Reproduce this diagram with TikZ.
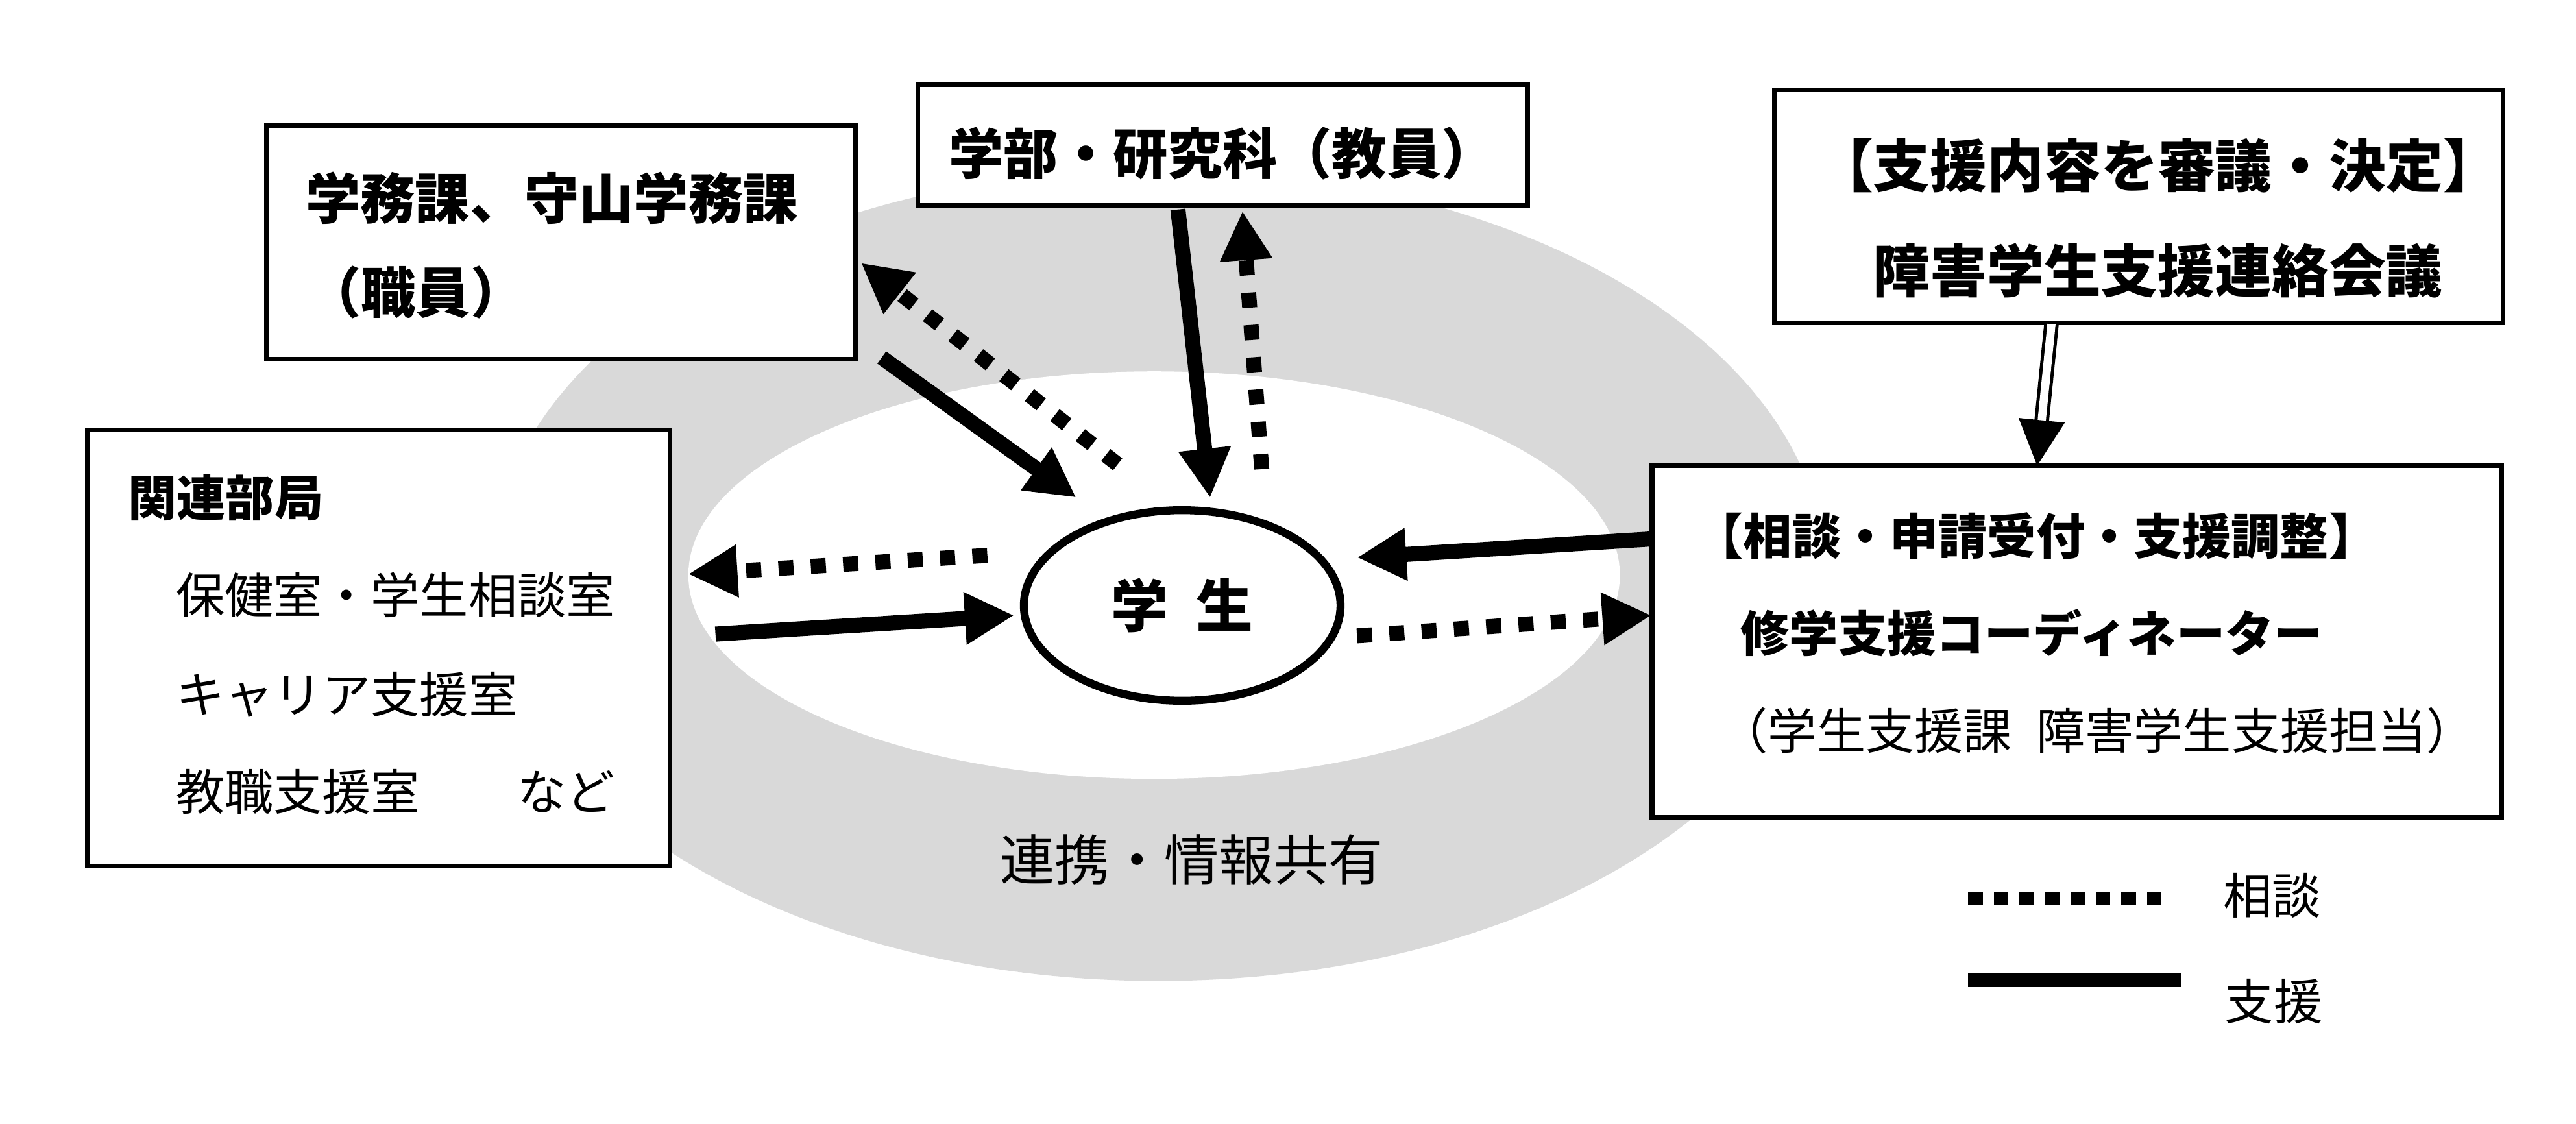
\documentclass[tikz,border=0pt]{standalone}
\usepackage{fontspec}
\setmainfont{Noto Sans CJK JP}
\usetikzlibrary{arrows.meta, shapes.geometric}
\definecolor{renkei}{RGB}{217,217,217}
\tikzset{%
  waku/.style={draw, line width=1pt, fill=white, inner sep=0pt},
  shien/.style={line width=3.3pt, -{Triangle[length=10.8pt, width=10.8pt]}},
  soudan/.style={shien, dash pattern=on 3.3pt off 3.8pt},
  futo/.style={font=\fontsize{12pt}{14pt}\selectfont\bfseries, inner sep=0pt},
  hoso/.style={font=\fontsize{10.7pt}{13pt}\selectfont, inner sep=0pt},
  hosofuto/.style={font=\fontsize{10.7pt}{13pt}\selectfont\bfseries, inner sep=0pt},
}

\begin{document}
\begin{tikzpicture}[x=0.01266cm, y=-0.01266cm]
\useasboundingbox (0,0) rectangle (1568,684);

% gray band and the white area inside it
\fill[renkei] (705,350) ellipse [x radius=406, y radius=247];
\fill[white] (702.5,350) ellipse [x radius=283.5, y radius=124];

% boxes
\node[waku, minimum width=4.545cm, minimum height=1.798cm] (gakumu) at (341.5,147.5) {};
\node[waku, minimum width=4.703cm, minimum height=0.928cm] (gakubu) at (744.25,88.35) {};
\node[waku, minimum width=5.615cm, minimum height=1.798cm] (kaigi) at (1301.75,125.5) {};
\node[waku, minimum width=4.494cm, minimum height=3.361cm] (kanren) at (230.5,394.25) {};
\node[waku, minimum width=6.552cm, minimum height=2.709cm] (coord) at (1264.25,390.5) {};

% texts in the boxes
\node[futo, anchor=west] (gakumu1) at (185.5,120.6) {学務課、守山学務課};
\node[futo, anchor=west] (gakumu2) at (186,178) {（職員）};
\node[futo] (gakubu1) at (744.2,93.3) {学部・研究科（教員）};
\node[futo, font=\fontsize{12.5pt}{15pt}\selectfont\bfseries, anchor=west] (kaigi1) at (1105,100.7) {【支援内容を審議・決定】};
\node[futo, font=\fontsize{12.5pt}{15pt}\selectfont\bfseries, anchor=west] (kaigi2) at (1139.5,164.7) {障害学生支援連絡会議};
\node[hosofuto, anchor=west] (kanren1) at (77.5,303) {関連部局};
\node[hoso, anchor=west] (kanren2) at (106.5,362.2) {保健室・学生相談室};
\node[hoso, anchor=west] (kanren3) at (106.5,422.7) {キャリア支援室};
\node[hoso, anchor=west] (kanren4) at (106.5,481.9) {教職支援室　　など};
\node[hosofuto, anchor=west] (coord1) at (1031,326) {【相談・申請受付・支援調整】};
\node[hosofuto, anchor=west] (coord2) at (1059,385) {修学支援コーディネーター};
\node[hoso, anchor=west] (coord3) at (1046,444.5) {（学生支援課\hspace{0.5em}障害学生支援担当）};

% student
\node[ellipse, draw, line width=1.75pt, minimum width=2.441cm, minimum height=1.469cm,
      font=\fontsize{12.5pt}{15pt}\selectfont\bfseries] (gakusei) at (719.6,368.5) {学\hspace{0.5em}生};
\node[font=\fontsize{12pt}{14pt}\selectfont, inner sep=0pt] (renkeilbl) at (725.4,523) {連携・情報共有};

% end points of the arrows
\coordinate (A1) at (536.7,217.6);  \coordinate (B1) at (655.1,302.8);
\coordinate (A2) at (680.3,282.6);  \coordinate (B2) at (524.1,160);
\coordinate (A3) at (717,127.5);    \coordinate (B3) at (736.6,303);
\coordinate (A4) at (768,285.5);    \coordinate (B4) at (756.3,128.4);
\coordinate (A5) at (601,338);      \coordinate (B5) at (418.9,349.4);
\coordinate (A6) at (435.5,385.9);  \coordinate (B6) at (617.3,374.5);
\coordinate (A7) at (1005.3,328);   \coordinate (B7) at (826,339.3);
\coordinate (A8) at (826,387);      \coordinate (B8) at (1005.3,374.5);
\coordinate (A9) at (1248.7,197.3); \coordinate (B9) at (1240,283.4);

% support (solid) and consultation (dotted)
\draw[shien] (A1) -- (B1);
\draw[soudan] (A2) -- (B2);
\draw[shien] (A3) -- (B3);
\draw[soudan] (A4) -- (B4);
\draw[soudan] (A5) -- (B5);
\draw[shien] (A6) -- (B6);
\draw[shien] (A7) -- (B7);
\draw[soudan] (A8) -- (B8);

% meeting to coordinator
\draw[line width=0.7pt, double, double distance=1.8pt, -{Triangle[length=10pt, width=10pt]}] (A9) -- (B9);

% legend
\coordinate (L1) at (1198,547);   \coordinate (M1) at (1321,547);
\coordinate (L2) at (1198,596.7); \coordinate (M2) at (1328,596.7);
\draw[line width=3pt, dash pattern=on 3.2pt off 2.4pt] (L1) -- (M1);
\draw[line width=3pt] (L2) -- (M2);
\node[hoso] (soudanlbl) at (1383,545) {相談};
\node[hoso] (shienlbl) at (1384,609.6) {支援};

\end{tikzpicture}
\end{document}
